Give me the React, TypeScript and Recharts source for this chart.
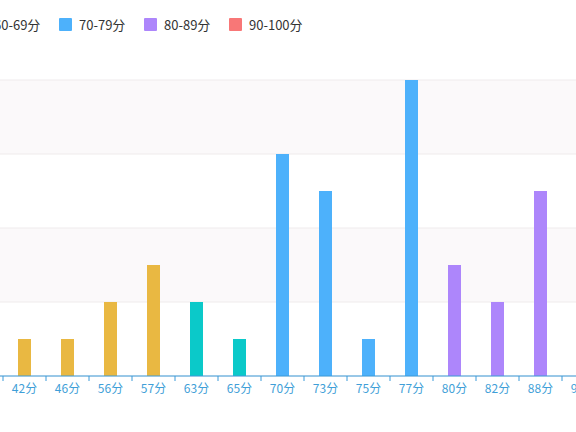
import { BarChart, Bar, XAxis, YAxis, CartesianGrid, Cell } from 'recharts';

const CATEGORIES = ['42分', '46分', '56分', '57分', '63分', '65分', '70分', '73分', '75分', '77分', '80分', '82分', '88分', '90分'];
const COUNTS = [1, 1, 2, 3, 2, 1, 6, 5, 1, 8, 3, 2, 5, 2];
// score band index per category
const BANDS = [0, 0, 0, 0, 1, 1, 2, 2, 2, 2, 3, 3, 3, 4];
const BAND_LABELS = ['0-59分', '60-69分', '70-79分', '80-89分', '90-100分'];
const BAND_COLORS = ['#e9b842', '#0bc9c9', '#4db1fb', '#ad86fb', '#f87777'];
const Y_TICKS = [0, 2, 4, 6, 8];

const FONT = '"Noto Sans CJK SC", "Noto Sans", sans-serif';

const data = CATEGORIES.map((name, i) => ({ name, count: COUNTS[i], band: BANDS[i] }));

function CategoryTick(props: any) {
  const { x, y, payload } = props;
  const half = payload?.offset ?? 0;
  return (
    <g>
      <line x1={x - half} x2={x - half} y1={y} y2={y + 5} stroke="#3a9ad9" strokeWidth={1} />
      <text x={x} y={y + 17} textAnchor="middle" fill="#3f9fd8" fontSize={12} fontFamily={FONT}>
        {payload.value}
      </text>
    </g>
  );
}

export default function App() {
  return (
    <div
      style={{
        position: 'absolute',
        left: 0,
        top: 0,
        width: 576,
        height: 432,
        overflow: 'hidden',
        background: '#fff',
        fontFamily: FONT,
      }}
    >
      {/* legend, centred on the full chart so the first item sits off-screen */}
      <div style={{ position: 'absolute', top: 15, left: -111, display: 'flex', whiteSpace: 'nowrap' }}>
        {BAND_LABELS.map((label, i) => (
          <div key={label} style={{ display: 'flex', alignItems: 'center', width: 85 }}>
            <span
              style={{ width: 13, height: 13, background: BAND_COLORS[i], marginRight: 7, borderRadius: 1 }}
            />
            <span style={{ fontSize: 13, color: '#333' }}>{label}</span>
          </div>
        ))}
      </div>

      <div style={{ position: 'absolute', left: -100, top: 0 }}>
        <BarChart
          width={705}
          height={406}
          data={data}
          margin={{ top: 80, right: 0, bottom: 0, left: 0 }}
        >
          <CartesianGrid
            vertical={false}
            stroke="#efebec"
            horizontalFill={['#fbf9fa', '#ffffff']}
          />
          <YAxis width={60} domain={[0, 8]} ticks={Y_TICKS} axisLine={false} tickLine={false} />
          <XAxis
            dataKey="name"
            height={30}
            interval={0}
            padding={{ left: 43, right: 0 }}
            axisLine={{ stroke: '#3a9ad9' }}
            tickLine={false}
            tickSize={0}
            tickMargin={0}
            tick={<CategoryTick />}
          />
          <Bar dataKey="count" barSize={13} isAnimationActive={false}>
            {data.map((d) => (
              <Cell key={d.name} fill={BAND_COLORS[d.band]} />
            ))}
          </Bar>
        </BarChart>
      </div>
    </div>
  );
}
